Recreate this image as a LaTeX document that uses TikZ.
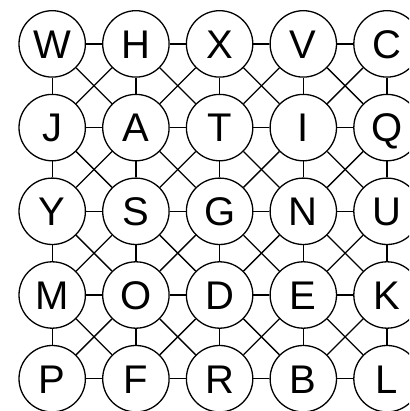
\documentclass[tikz,border=0pt]{standalone}
\usepackage{fontspec}
\setmainfont{Liberation Sans}
\begin{document}
\begin{tikzpicture}[x=1pt,y=1pt,
  cell/.style={circle,draw,line width=1.3pt,fill=white,minimum size=66.4pt,inner sep=0pt,
    font=\fontsize{40}{40}\selectfont,text height=28.7pt,text depth=0pt},
  link/.style={line width=1.3pt}]
\path[use as bounding box] (0,0) rectangle (409,411);
\clip (0,0) rectangle (409,411);
\foreach \txt/\rr/\cc in {W/0/0,H/0/1,X/0/2,V/0/3,C/0/4,
                          J/1/0,A/1/1,T/1/2,I/1/3,Q/1/4,
                          Y/2/0,S/2/1,G/2/2,N/2/3,U/2/4,
                          M/3/0,O/3/1,D/3/2,E/3/3,K/3/4,
                          P/4/0,F/4/1,R/4/2,B/4/3,L/4/4}
  \node[cell] (n-\rr-\cc) at ({52.2+83.7*\cc},{411-43.9-83.7*\rr}) {\txt};
\foreach \ra/\rb in {0/1,1/2,2/3,3/4}
  \foreach \ca/\cb in {0/1,1/2,2/3,3/4}
  {
    \draw[link] (n-\ra-\ca) -- (n-\rb-\cb);
    \draw[link] (n-\ra-\cb) -- (n-\rb-\ca);
  }
\foreach \ra in {0,1,2,3,4}
  \foreach \ca/\cb in {0/1,1/2,2/3,3/4}
  {
    \draw[link] (n-\ra-\ca) -- (n-\ra-\cb);
    \draw[link] (n-\ca-\ra) -- (n-\cb-\ra);
  }
\end{tikzpicture}
\end{document}
